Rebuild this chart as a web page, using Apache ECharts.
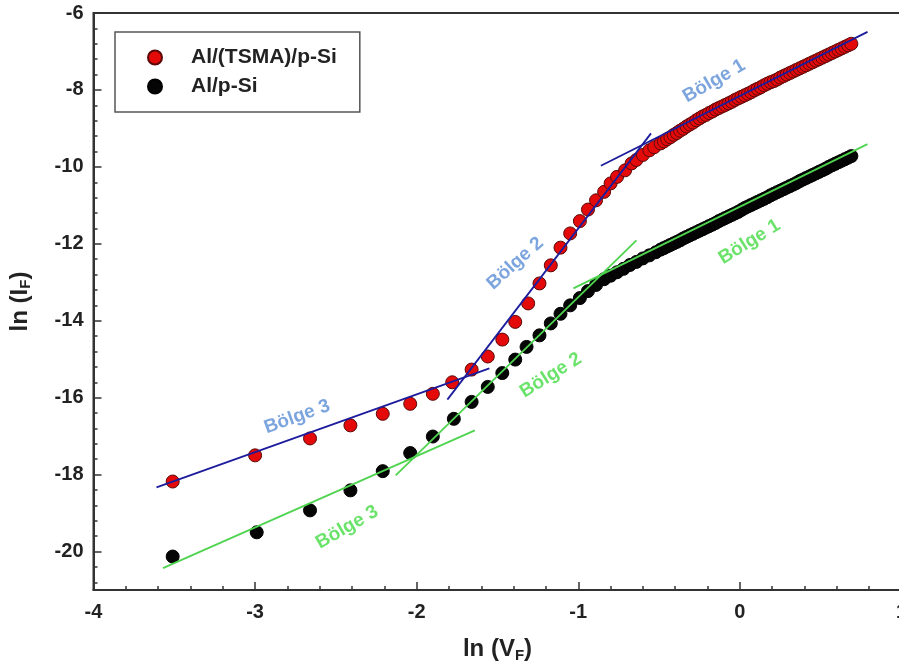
<!DOCTYPE html>
<html>
<head>
<meta charset="utf-8">
<script src="https://cdn.jsdelivr.net/npm/echarts@6/dist/echarts.min.js"></script>
<style>
html,body{margin:0;padding:0;overflow:hidden;background:#fff;width:899px;height:668px;}
#chart{width:910px;height:668px;}
</style>
</head>
<body>
<div id="chart"></div>
<script>
// ---- data ----
const seriesNames = ['Al/(TSMA)/p-Si', 'Al/p-Si'];

const xRed = [-3.51,-3.00,-2.66,-2.41,-2.21,-2.04,-1.90,-1.78,-1.66,-1.56,-1.47,-1.39,-1.31,-1.24,-1.17,-1.11,-1.05,-0.99,-0.94,-0.89,-0.84,-0.80,-0.76,-0.71,-0.67,-0.64,-0.60,-0.56,-0.53,
  -0.49,-0.47,-0.45,-0.43,-0.41,-0.39,-0.37,-0.35,-0.33,-0.31,-0.29,-0.27,-0.25,-0.23,-0.21,-0.19,-0.17,-0.15,-0.13,-0.11,-0.09,-0.07,-0.05,-0.03,-0.01,
  0.01,0.03,0.05,0.07,0.09,0.11,0.13,0.15,0.17,0.19,0.21,0.23,0.25,0.27,0.29,0.31,0.33,0.35,0.37,0.39,0.41,0.43,0.45,0.47,0.49,0.51,0.53,0.55,0.57,0.59,0.61,0.63,0.65,0.67,0.69];
const yRed = [-18.18,-17.50,-17.06,-16.72,-16.42,-16.16,-15.90,-15.60,-15.27,-14.93,-14.49,-14.03,-13.55,-13.03,-12.56,-12.10,-11.73,-11.41,-11.11,-10.87,-10.65,-10.43,-10.26,-10.09,-9.91,-9.82,-9.69,-9.57,-9.49,
  -9.39,-9.34,-9.28,-9.23,-9.17,-9.12,-9.06,-9.01,-8.95,-8.90,-8.85,-8.79,-8.74,-8.69,-8.65,-8.60,-8.56,-8.51,-8.47,-8.43,-8.39,-8.35,-8.31,-8.26,-8.22,
  -8.18,-8.14,-8.10,-8.06,-8.01,-7.97,-7.93,-7.88,-7.84,-7.80,-7.77,-7.73,-7.68,-7.64,-7.60,-7.56,-7.52,-7.48,-7.44,-7.40,-7.36,-7.32,-7.28,-7.24,-7.20,-7.16,-7.12,-7.08,-7.04,-7.00,-6.96,-6.92,-6.88,-6.84,-6.80];

const xBlack = [-3.51,-2.99,-2.66,-2.41,-2.21,-2.04,-1.90,-1.77,-1.66,-1.56,-1.47,-1.39,-1.32,-1.24,-1.17,-1.11,-1.05,-0.99,-0.94,-0.89,-0.84,-0.80,-0.76,-0.72,-0.68,-0.64,-0.60,-0.56,-0.52,
  -0.49,-0.47,-0.45,-0.43,-0.41,-0.39,-0.37,-0.35,-0.33,-0.31,-0.29,-0.27,-0.25,-0.23,-0.21,-0.19,-0.17,-0.15,-0.13,-0.11,-0.09,-0.07,-0.05,-0.03,-0.01,
  0.01,0.03,0.05,0.07,0.09,0.11,0.13,0.15,0.17,0.19,0.21,0.23,0.25,0.27,0.29,0.31,0.33,0.35,0.37,0.39,0.41,0.43,0.45,0.47,0.49,0.51,0.53,0.55,0.57,0.59,0.61,0.63,0.65,0.67,0.69];
const yBlack = [-20.13,-19.50,-18.93,-18.41,-17.91,-17.44,-17.01,-16.55,-16.11,-15.72,-15.36,-15.01,-14.68,-14.38,-14.07,-13.82,-13.60,-13.41,-13.23,-13.07,-12.92,-12.83,-12.74,-12.65,-12.55,-12.47,-12.38,-12.30,-12.22,
  -12.15,-12.11,-12.07,-12.03,-11.99,-11.95,-11.91,-11.86,-11.82,-11.78,-11.74,-11.70,-11.66,-11.62,-11.58,-11.54,-11.50,-11.46,-11.41,-11.37,-11.33,-11.29,-11.25,-11.21,-11.17,
  -11.12,-11.07,-11.03,-10.99,-10.95,-10.91,-10.87,-10.83,-10.79,-10.74,-10.70,-10.66,-10.62,-10.58,-10.54,-10.50,-10.46,-10.42,-10.37,-10.33,-10.29,-10.25,-10.21,-10.17,-10.13,-10.09,-10.05,-10.00,-9.96,-9.92,-9.88,-9.84,-9.80,-9.76,-9.72];

// fit lines (endpoints)
const blueFit1 = [[-0.86,-9.97],[0.79,-6.49]];
const blueFit2 = [[-1.81,-16.05],[-0.55,-9.13]];
const blueFit3 = [[-3.61,-18.33],[-1.55,-15.24]];
const greenFit1 = [[-1.03,-13.16],[0.79,-9.41]];
const greenFit2 = [[-2.13,-18.02],[-0.64,-11.91]];
const greenFit3 = [[-3.57,-20.43],[-1.64,-16.85]];

// annotation labels: text, x, y, angle, group
const noteText = ['Bölge 1','Bölge 2','Bölge 3','Bölge 1','Bölge 2','Bölge 3'];
const noteX = [-0.16,-1.39,-2.74,0.06,-1.17,-2.43];
const noteY = [-7.77,-12.51,-16.50,-11.95,-15.42,-19.37];
const noteAngle = [30,42,20,32,32,30];
const noteGroup = ['blue','blue','blue','green','green','green'];

// axis ticks
const xTickMin = -4, xTickMax = 1, xTickStep = 1;
const yMajorTicks = [-20,-18,-16,-14,-12,-10,-8,-6];
const yMinorTicks = [];
for (let v = -20.8; v < -6; v += 0.4) {
  const r = Math.round(v * 10) / 10;
  if (yMajorTicks.indexOf(r) < 0) yMinorTicks.push(r);
}

// ---- build ----
const zip = (a, b) => a.map((v, i) => [v, b[i]]);
const BLUE_LINE = '#1c1c9c', GREEN_LINE = '#4fd44f';
const BLUE_TXT = '#5b8fd6', GREEN_TXT = '#46dc46';
const FONT = 'Liberation Sans, Arial, sans-serif';

const chart = echarts.init(document.getElementById('chart'), null, {renderer: 'canvas'});

const axisText = {color: '#222', fontSize: 20, fontWeight: 'bold', fontFamily: FONT};

function fitSeries(data, color) {
  return {type: 'line', data: data, symbol: 'none', silent: true, z: 5,
    lineStyle: {color: color, width: 1.8}, animation: false};
}

const noteData = noteText.map((t, i) => ({
  value: [noteX[i], noteY[i]],
  name: t,
  label: {rotate: noteAngle[i], color: noteGroup[i] === 'blue' ? BLUE_TXT : GREEN_TXT}
}));

chart.setOption({
  animation: false,
  backgroundColor: '#fff',
  grid: {left: 92, top: 13, right: 7, bottom: 78, show: true, borderColor: '#333', borderWidth: 2},
  legend: {
    data: seriesNames,
    orient: 'vertical',
    left: 115, top: 32,
    padding: [15, 23, 15, 32],
    itemGap: 8,
    itemWidth: 62, itemHeight: 14,
    borderColor: '#555', borderWidth: 1.5,
    textStyle: {color: '#222', fontSize: 21, fontWeight: 'bold', fontFamily: FONT}
  },
  xAxis: [{
    type: 'value', min: xTickMin, max: xTickMax, interval: xTickStep,
    position: 'bottom',
    name: 'ln (V{sub|F})', nameLocation: 'middle', nameGap: 46,
    nameTextStyle: {color: '#222', fontSize: 24, fontWeight: 'bold', fontFamily: FONT,
      rich: {sub: {fontSize: 15, fontWeight: 'bold', color: '#222', padding: [12, 0, 0, 0], fontFamily: FONT}}},
    axisLine: {show: true, onZero: false, lineStyle: {color: '#333', width: 2}},
    axisTick: {show: true, inside: true, length: 8, lineStyle: {color: '#333', width: 1.5}},
    minorTick: {show: true, splitNumber: 5, length: 4, lineStyle: {color: '#333', width: 1.5}},
    axisLabel: Object.assign({margin: 12}, axisText),
    splitLine: {show: false}
  }],
  yAxis: [{
    type: 'value', min: -21, max: -6,
    name: 'ln (I{sub|F})', nameLocation: 'middle', nameGap: 60, nameRotate: 90,
    nameTextStyle: {color: '#222', fontSize: 24, fontWeight: 'bold', fontFamily: FONT,
      rich: {sub: {fontSize: 15, fontWeight: 'bold', color: '#222', padding: [12, 0, 0, 0], fontFamily: FONT}}},
    axisLine: {show: true, onZero: false, lineStyle: {color: '#333', width: 2}},
    axisTick: {show: true, inside: true, length: 8, customValues: yMajorTicks, lineStyle: {color: '#333', width: 1.5}},
    axisLabel: Object.assign({margin: 10, customValues: yMajorTicks}, axisText),
    splitLine: {show: false}
  }, {
    type: 'value', min: -21, max: -6, position: 'left',
    axisLine: {show: false, onZero: false},
    axisTick: {show: true, inside: true, length: 4, customValues: yMinorTicks, lineStyle: {color: '#333', width: 1.5}},
    axisLabel: {show: false},
    splitLine: {show: false}
  }],
  series: [
    {name: seriesNames[0], type: 'scatter', data: zip(xRed, yRed), symbolSize: 13, z: 2,
      itemStyle: {color: '#e40a0a', borderColor: '#5a0808', borderWidth: 1, opacity: 1}},
    {name: seriesNames[1], type: 'scatter', data: zip(xBlack, yBlack), symbolSize: 13, z: 2,
      itemStyle: {color: '#050505', borderColor: '#000', borderWidth: 1, opacity: 1}},
    fitSeries(blueFit1, BLUE_LINE),
    fitSeries(blueFit2, BLUE_LINE),
    fitSeries(blueFit3, BLUE_LINE),
    fitSeries(greenFit1, GREEN_LINE),
    fitSeries(greenFit2, GREEN_LINE),
    fitSeries(greenFit3, GREEN_LINE),
    {type: 'scatter', data: noteData, symbolSize: 0, silent: true, z: 6,
      label: {show: true, position: 'inside', formatter: '{b}', fontSize: 19, fontWeight: 'bold',
        fontFamily: FONT, align: 'center', verticalAlign: 'middle'}}
  ]
});
</script>
</body>
</html>
